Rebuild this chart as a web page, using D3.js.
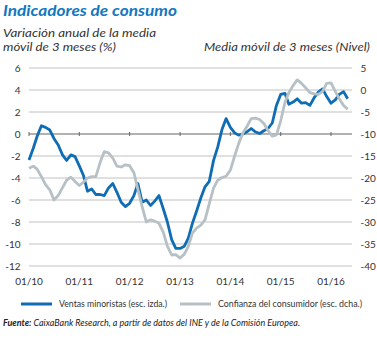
<!DOCTYPE html>
<html><head><meta charset="utf-8">
<script src="https://cdn.jsdelivr.net/npm/d3@7"></script>
<style>
html,body{margin:0;padding:0;background:#fff;}
svg{display:block;font-family:Lato,"Open Sans",sans-serif;}
</style></head>
<body>
<svg id="c" width="377" height="338"></svg>
<script>
// Monthly data Jan 2010 – May 2016
const startMonth = "2010-01";
const ventas = [-2.36,-1.3,-0.2,0.75,0.6,0.36,-0.4,-1.0,-1.9,-2.4,-1.9,-2.06,-2.9,-3.8,-5.2,-5.0,-5.5,-5.5,-5.6,-4.9,
  -4.5,-5.3,-6.2,-6.6,-6.3,-5.6,-4.5,-6.2,-6.0,-6.5,-6.1,-5.6,-6.8,-8.0,-9.6,-10.4,-10.4,-10.2,-9.5,-8.1,
  -7.0,-5.8,-4.8,-4.3,-2.4,-1.2,0.4,1.4,0.6,0.1,-0.1,0.0,0.2,0.5,0.2,0.05,0.3,0.5,1.0,2.6,
  3.6,3.7,2.7,2.9,3.2,2.8,2.85,2.6,3.3,3.8,4.1,3.4,2.8,3.1,3.6,3.85,3.2];
const confianza = [-17.8,-17.3,-18.0,-19.7,-21.5,-22.7,-25.0,-24.0,-22.2,-20.5,-19.8,-20.8,-21.7,-20.9,-20.0,-19.7,-19.7,-16.5,-14.0,-14.3,
  -15.5,-17.3,-17.5,-17.0,-17.2,-18.8,-22.6,-26.5,-30.0,-29.5,-29.8,-30.3,-32.3,-35.5,-37.5,-37.4,-38.2,-37.3,-35.6,-32.5,
  -31.4,-30.7,-29.5,-25.8,-22.3,-20.5,-19.9,-19.6,-18.2,-15.0,-12.3,-9.8,-8.3,-6.5,-6.4,-6.7,-7.6,-9.2,-10.5,-10.2,
  -7.0,-2.8,-0.6,1.0,2.3,1.5,0.5,-0.6,-0.9,-1.0,-0.3,1.5,1.6,-0.3,-2.0,-3.5,-4.4];
const xTickLabels = ["01/10","01/11","01/12","01/13","01/14","01/15","01/16"];
const leftTicks = [6,4,2,0,-2,-4,-6,-8,-10,-12];
const rightTicks = [5,0,-5,-10,-15,-20,-25,-30,-35,-40];
const seriesNames = ["Ventas minoristas (esc. izda.)","Confianza del consumidor (esc. dcha.)"];

const BLUE = "#0e6db4", GREY = "#b7c1c5", TXT = "#333";
const svg = d3.select("#c");
const parse = d3.timeParse("%Y-%m");
const t0 = parse(startMonth);
const dates = ventas.map((_, i) => d3.timeMonth.offset(t0, i));

const x = d3.scaleTime().domain([parse("2010-01"), parse("2016-01")]).range([29, 331]);
const yL = d3.scaleLinear().domain([-12, 6]).range([266, 68]);
const yR = d3.scaleLinear().domain([-40, 5]).range([266, 68]);
const xL = 29, xR = 352;

function txt(s, xx, yy, size, opts = {}) {
  const t = svg.append("text").attr("x", xx).attr("y", yy).attr("font-size", size)
    .attr("fill", opts.fill || TXT).text(s);
  if (opts.weight) t.attr("font-weight", opts.weight);
  if (opts.style) t.attr("font-style", opts.style);
  if (opts.anchor) t.attr("text-anchor", opts.anchor);
  if (opts.w) t.attr("textLength", opts.w).attr("lengthAdjust", "spacingAndGlyphs");
  return t;
}

// titles
txt("Indicadores de consumo", 3, 16, 15.5, {fill: "#1277c0", weight: "bold", style: "italic", w: 174});
txt("Variación anual de la media", 3, 37, 12, {style: "italic", w: 153});
txt("móvil de 3 meses (%)", 3, 51, 12, {style: "italic", w: 113});
txt("Media móvil de 3 meses (Nivel)", 204, 51, 12, {style: "italic", w: 166});

// gridlines
svg.append("g").selectAll("line").data(leftTicks.filter(d => d !== 0)).join("line")
  .attr("x1", xL).attr("x2", xR).attr("y1", d => yL(d)).attr("y2", d => yL(d))
  .attr("stroke", "#d6d6d6").attr("stroke-width", 1.3);

// left axis labels
svg.append("g").selectAll("text").data(leftTicks).join("text")
  .attr("x", 20.5).attr("y", d => yL(d) + 3.6).attr("text-anchor", "end")
  .attr("font-size", 10).attr("fill", TXT).text(d => d);
// right axis labels
svg.append("g").selectAll("text").data(rightTicks).join("text")
  .attr("x", 360.5).attr("y", d => yR(d) + 3.6)
  .attr("font-size", 10).attr("fill", TXT).text(d => d);

// zero line with ticks
svg.append("line").attr("x1", xL).attr("x2", xR).attr("y1", yL(0)).attr("y2", yL(0))
  .attr("stroke", "#666").attr("stroke-width", 1.2);
const tickDates = xTickLabels.map(s => d3.timeParse("%m/%y")(s));
svg.append("g").selectAll("line").data(tickDates).join("line")
  .attr("x1", d => x(d)).attr("x2", d => x(d)).attr("y1", yL(0) - 2).attr("y2", yL(0) + 2)
  .attr("stroke", "#666").attr("stroke-width", 1);
// x labels
svg.append("g").selectAll("text").data(tickDates).join("text")
  .attr("x", d => x(d)).attr("y", 284.5).attr("text-anchor", "middle")
  .attr("font-size", 10).attr("fill", TXT).text((d, i) => xTickLabels[i]);

// lines
const lineR = d3.line().x((d, i) => x(dates[i])).y(d => yR(d));
const lineL = d3.line().x((d, i) => x(dates[i])).y(d => yL(d));
svg.append("path").attr("d", lineL(ventas)).attr("fill", "none").attr("stroke", BLUE)
  .attr("stroke-width", 2.8).attr("stroke-linejoin", "round");
svg.append("path").attr("d", lineR(confianza)).attr("fill", "none").attr("stroke", GREY)
  .attr("stroke-width", 2.8).attr("stroke-linejoin", "round");

// legend
svg.append("line").attr("x1", 21).attr("x2", 52).attr("y1", 304).attr("y2", 304).attr("stroke", BLUE).attr("stroke-width", 3);
txt(seriesNames[0], 59, 307, 9, {w: 108});
svg.append("line").attr("x1", 180).attr("x2", 211).attr("y1", 304).attr("y2", 304).attr("stroke", GREY).attr("stroke-width", 3);
txt(seriesNames[1], 218, 307, 9, {w: 144});

// source
const src = svg.append("text").attr("x", 3).attr("y", 325.5).attr("font-size", 9.5).attr("fill", "#222")
  .attr("font-style", "italic").attr("textLength", 297).attr("lengthAdjust", "spacingAndGlyphs");
src.append("tspan").attr("font-weight", "bold").text("Fuente:");
src.append("tspan").text(" CaixaBank Research, a partir de datos del INE y de la Comisión Europea.");
</script>
</body></html>
